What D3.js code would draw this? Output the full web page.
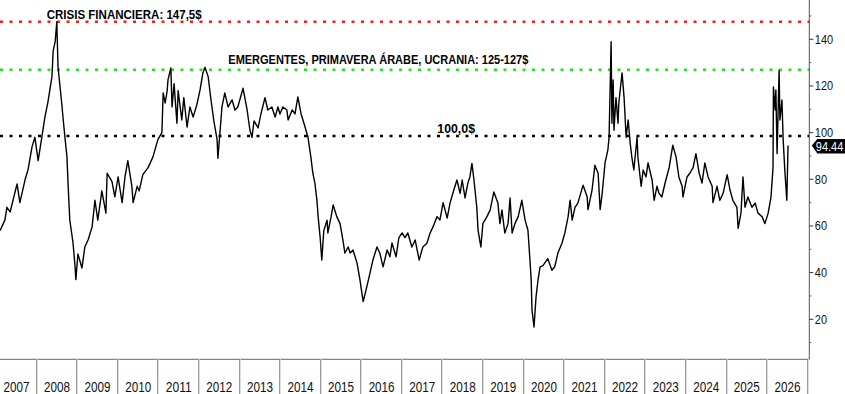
<!DOCTYPE html>
<html lang="es">
<head>
<meta charset="UTF-8">
<title>Brent</title>
<script src="https://cdnjs.cloudflare.com/ajax/libs/d3/7.8.5/d3.min.js"></script>
<style>
  body { margin: 0; background: #fff; overflow: hidden; }
  svg { display: block; font-family: "Liberation Sans", Arial, sans-serif; }
</style>
</head>
<body>
<div id="chart"></div>
<script>
// Fechas en años decimales y precio (USD/barril)
const dates = [
  2007.12, 2007.24, 2007.29, 2007.37, 2007.44, 2007.54, 2007.61, 2007.74, 2007.81, 2007.91,
  2007.98, 2008.06, 2008.15, 2008.23, 2008.30, 2008.40, 2008.43, 2008.48, 2008.52, 2008.55,
  2008.60, 2008.65, 2008.67, 2008.72, 2008.77, 2008.80, 2008.84, 2008.92, 2008.97, 2008.99,
  2009.04, 2009.14, 2009.21, 2009.29, 2009.39, 2009.46, 2009.53, 2009.63, 2009.73, 2009.76,
  2009.88, 2009.95, 2010.03, 2010.13, 2010.20, 2010.27, 2010.37, 2010.40, 2010.50, 2010.55,
  2010.64, 2010.77, 2010.89, 2011.01, 2011.11, 2011.14, 2011.19, 2011.24, 2011.26, 2011.33,
  2011.36, 2011.41, 2011.48, 2011.51, 2011.60, 2011.65, 2011.73, 2011.80, 2011.88, 2011.97,
  2012.05, 2012.12, 2012.17, 2012.25, 2012.32, 2012.39, 2012.47, 2012.49, 2012.54, 2012.59,
  2012.66, 2012.74, 2012.84, 2012.91, 2012.98, 2013.11, 2013.21, 2013.28, 2013.33, 2013.38,
  2013.48, 2013.55, 2013.65, 2013.72, 2013.82, 2013.90, 2013.97, 2014.02, 2014.09, 2014.19,
  2014.22, 2014.32, 2014.39, 2014.46, 2014.54, 2014.61, 2014.71, 2014.78, 2014.83, 2014.88,
  2014.93, 2014.96, 2015.01, 2015.05, 2015.10, 2015.18, 2015.20, 2015.28, 2015.33, 2015.42,
  2015.50, 2015.57, 2015.62, 2015.70, 2015.75, 2015.82, 2015.92, 2015.99, 2016.04, 2016.07,
  2016.16, 2016.24, 2016.31, 2016.41, 2016.48, 2016.56, 2016.66, 2016.73, 2016.78, 2016.88,
  2016.95, 2017.03, 2017.10, 2017.17, 2017.27, 2017.35, 2017.45, 2017.54, 2017.64, 2017.72,
  2017.79, 2017.89, 2017.96, 2018.04, 2018.14, 2018.21, 2018.28, 2018.38, 2018.46, 2018.51,
  2018.58, 2018.65, 2018.70, 2018.75, 2018.80, 2018.87, 2018.90, 2018.97, 2019.02, 2019.12,
  2019.20, 2019.29, 2019.39, 2019.44, 2019.49, 2019.56, 2019.64, 2019.69, 2019.74, 2019.81,
  2019.89, 2019.98, 2020.06, 2020.13, 2020.18, 2020.21, 2020.23, 2020.28, 2020.33, 2020.38,
  2020.43, 2020.50, 2020.62, 2020.72, 2020.79, 2020.87, 2020.97, 2021.04, 2021.12, 2021.17,
  2021.22, 2021.29, 2021.36, 2021.49, 2021.59, 2021.61, 2021.71, 2021.78, 2021.86, 2021.91,
  2021.96, 2022.03, 2022.10, 2022.13, 2022.18, 2022.20, 2022.23, 2022.25, 2022.30, 2022.35,
  2022.37, 2022.45, 2022.50, 2022.55, 2022.60, 2022.65, 2022.69, 2022.74, 2022.82, 2022.84,
  2022.92, 2022.97, 2023.04, 2023.09, 2023.19, 2023.24, 2023.31, 2023.36, 2023.43, 2023.51,
  2023.61, 2023.70, 2023.78, 2023.85, 2023.93, 2023.95, 2024.05, 2024.12, 2024.20, 2024.27,
  2024.35, 2024.42, 2024.49, 2024.57, 2024.67, 2024.69, 2024.79, 2024.86, 2024.94, 2025.04,
  2025.11, 2025.18, 2025.28, 2025.31, 2025.38, 2025.43, 2025.48, 2025.55, 2025.65, 2025.73,
  2025.80, 2025.90, 2025.97, 2026.05, 2026.12, 2026.17, 2026.18, 2026.22, 2026.24, 2026.27,
  2026.32, 2026.34, 2026.39, 2026.42, 2026.46, 2026.51, 2026.54
];
const prices = [
  58, 62.5, 68, 66, 71, 78, 70, 80, 84, 94,
  98, 88, 98, 107, 113, 124, 135, 139, 147.5, 128,
  119.6, 111, 107, 98, 89.6, 77, 62.5, 52.7, 42.5, 37,
  48, 42, 51, 54, 59.6, 71, 62.5, 75, 65.5, 82.6,
  79, 72.5, 81, 70, 81, 88, 77, 70, 77, 75,
  82, 85, 89.6, 97, 100, 117, 112.7, 118, 122.6, 127.7,
  111, 121, 104, 118, 105.4, 115, 102.4, 111, 106.7, 111.9,
  118.3, 125.6, 128, 124, 114, 105, 97, 89, 100, 111,
  117, 111, 114, 109.7, 111, 119, 109.7, 101, 98, 105,
  102, 108, 115, 109.7, 111, 106.7, 111, 108, 111, 109.7,
  105.4, 109.7, 108, 115.3, 108, 104, 98, 89.6, 82.6, 78.4,
  71, 64, 55, 45.4, 58, 62.5, 57, 64, 69, 64,
  61, 54, 48.4, 51, 48.4, 49.7, 44, 37, 31, 27.6,
  34, 40, 45.4, 51, 48.4, 42.5, 49.7, 46.8, 52.7, 46.8,
  55, 57, 55, 57, 51, 54, 45.4, 51, 52.6, 57,
  59.6, 64, 62.5, 70, 63.4, 69.8, 74, 79.7, 74, 79.7,
  72, 78.4, 81, 86.8, 79.7, 68, 58.3, 51, 61, 64,
  66.9, 74.6, 69.8, 61, 66.9, 57, 61, 72, 57, 61,
  64, 71, 62.5, 58.3, 45.4, 37, 24, 16.7, 29.6, 37,
  42.5, 43, 46, 41, 42.5, 48.4, 52.7, 57, 64, 71,
  62.5, 68, 69.8, 77.5, 72.4, 67, 75.4, 86, 82.6, 67,
  74, 87, 92.6, 98, 139, 104, 122.6, 101, 115, 104,
  112.7, 125.6, 115, 98, 105.4, 95.5, 89.6, 84, 98, 89.6,
  77, 84, 81, 87, 79.7, 71, 77, 74, 72.4, 78.4,
  85, 94.6, 89.6, 81, 77, 72.4, 81, 82.6, 85, 91,
  82.6, 78.4, 87, 81, 77, 70, 77, 71, 74, 82,
  75.4, 71, 68, 59, 65.5, 81, 68, 72.4, 68, 69.8,
  65.5, 64, 61, 65.5, 72.4, 85, 119.6, 109.7, 118.3, 91,
  126.8, 105.4, 114, 97, 84, 71, 94.44
];

const yearLabels = d3.range(2007, 2027);
const yTicks = [20, 40, 60, 80, 100, 120, 140];
const yMinorTicks = [10, 30, 50, 70, 90, 110, 130, 150];

const refLevels = [147.5, 127, 98.6];
const refColors = ["#ff1a1a", "#1ee61e", "#000000"];
const refLabels = ["CRISIS FINANCIERA: 147,5$", "EMERGENTES, PRIMAVERA ÁRABE, UCRANIA: 125-127$", "100,0$"];
const lastPrice = "94.44";

const width = 845, height = 394;
const plotRight = 809.3, plotBottom = 359.3;

const svg = d3.select("#chart").append("svg")
  .attr("width", width)
  .attr("height", height);

const x = d3.scaleLinear().domain([2007.12, 2027.064]).range([0, plotRight]);
const y = d3.scaleLinear().domain([2.857, 156.84]).range([plotBottom, 0]);

// Niveles de referencia punteados
refLevels.forEach((v, i) => {
  svg.append("line")
    .attr("x1", 0).attr("x2", plotRight)
    .attr("y1", y(v)).attr("y2", y(v))
    .attr("stroke", refColors[i])
    .attr("stroke-width", 2.5)
    .attr("stroke-dasharray", "3,6.5");
});

// Serie de precio
const series = dates.map((d, i) => [d, prices[i]]);
svg.append("path")
  .datum(series)
  .attr("fill", "none")
  .attr("stroke", "#000")
  .attr("stroke-width", 1.4)
  .attr("stroke-linejoin", "round")
  .attr("d", d3.line().x(d => x(d[0])).y(d => y(d[1])));

// Etiquetas de los niveles
const labelPos = [[46.7, 155, 3], [228.3, 300, 5.2], [437.3, 37.7, 3.3]];
refLabels.forEach((t, i) => {
  svg.append("text")
    .attr("x", labelPos[i][0])
    .attr("y", y(refLevels[i]) - labelPos[i][2])
    .attr("font-size", 12.5)
    .attr("font-weight", "bold")
    .attr("fill", "#000")
    .attr("textLength", labelPos[i][1])
    .attr("lengthAdjust", "spacingAndGlyphs")
    .text(t);
});

// Eje derecho
svg.append("line")
  .attr("x1", plotRight).attr("x2", plotRight)
  .attr("y1", 0).attr("y2", plotBottom)
  .attr("stroke", "#555");

svg.selectAll(".ytick")
  .data(yTicks)
  .enter().append("line")
  .attr("x1", plotRight).attr("x2", plotRight + 4)
  .attr("y1", d => y(d)).attr("y2", d => y(d))
  .attr("stroke", "#333");

svg.selectAll(".yminor")
  .data(yMinorTicks)
  .enter().append("line")
  .attr("x1", plotRight).attr("x2", plotRight + 2)
  .attr("y1", d => y(d)).attr("y2", d => y(d))
  .attr("stroke", "#555");

svg.selectAll(".ylabel")
  .data(yTicks)
  .enter().append("text")
  .attr("x", plotRight + 5.5)
  .attr("y", d => y(d) + 4.5)
  .attr("font-size", 13.5)
  .attr("fill", "#111")
  .attr("textLength", d => String(d).length * 6.1)
  .attr("lengthAdjust", "spacingAndGlyphs")
  .text(d => d);

// Marcador del último precio
const ly = y(+lastPrice);
svg.append("path")
  .attr("d", `M${plotRight + 2.5},${ly} L${plotRight + 8},${ly - 6.5} L${width},${ly - 6.5} L${width},${ly + 8} L${plotRight + 8},${ly + 8} Z`)
  .attr("fill", "#000");
svg.append("text")
  .attr("x", plotRight + 6.5)
  .attr("y", ly + 5.5)
  .attr("font-size", 13.5)
  .attr("fill", "#fff")
  .attr("textLength", 27.5)
  .attr("lengthAdjust", "spacingAndGlyphs")
  .text(lastPrice);

// Eje inferior con separadores anuales
svg.append("line")
  .attr("x1", 0).attr("x2", plotRight)
  .attr("y1", plotBottom).attr("y2", plotBottom)
  .attr("stroke", "#666");

const bounds = d3.range(2008, 2028);
svg.selectAll(".sep")
  .data(bounds)
  .enter().append("line")
  .attr("x1", d => Math.round(x(d)) + 0.5).attr("x2", d => Math.round(x(d)) + 0.5)
  .attr("y1", plotBottom).attr("y2", height)
  .attr("stroke", "#9a9a9a");
svg.selectAll(".sep2")
  .data(bounds)
  .enter().append("line")
  .attr("x1", d => Math.round(x(d)) + 1.5).attr("x2", d => Math.round(x(d)) + 1.5)
  .attr("y1", plotBottom).attr("y2", height)
  .attr("stroke", "#dedede");

svg.selectAll(".xlabel")
  .data(yearLabels)
  .enter().append("text")
  .attr("x", d => x(d + 0.5) + 1)
  .attr("y", 391.5)
  .attr("text-anchor", "middle")
  .attr("font-size", 15)
  .attr("fill", "#111")
  .attr("textLength", 26)
  .attr("lengthAdjust", "spacingAndGlyphs")
  .text(d => d);
</script>
</body>
</html>
